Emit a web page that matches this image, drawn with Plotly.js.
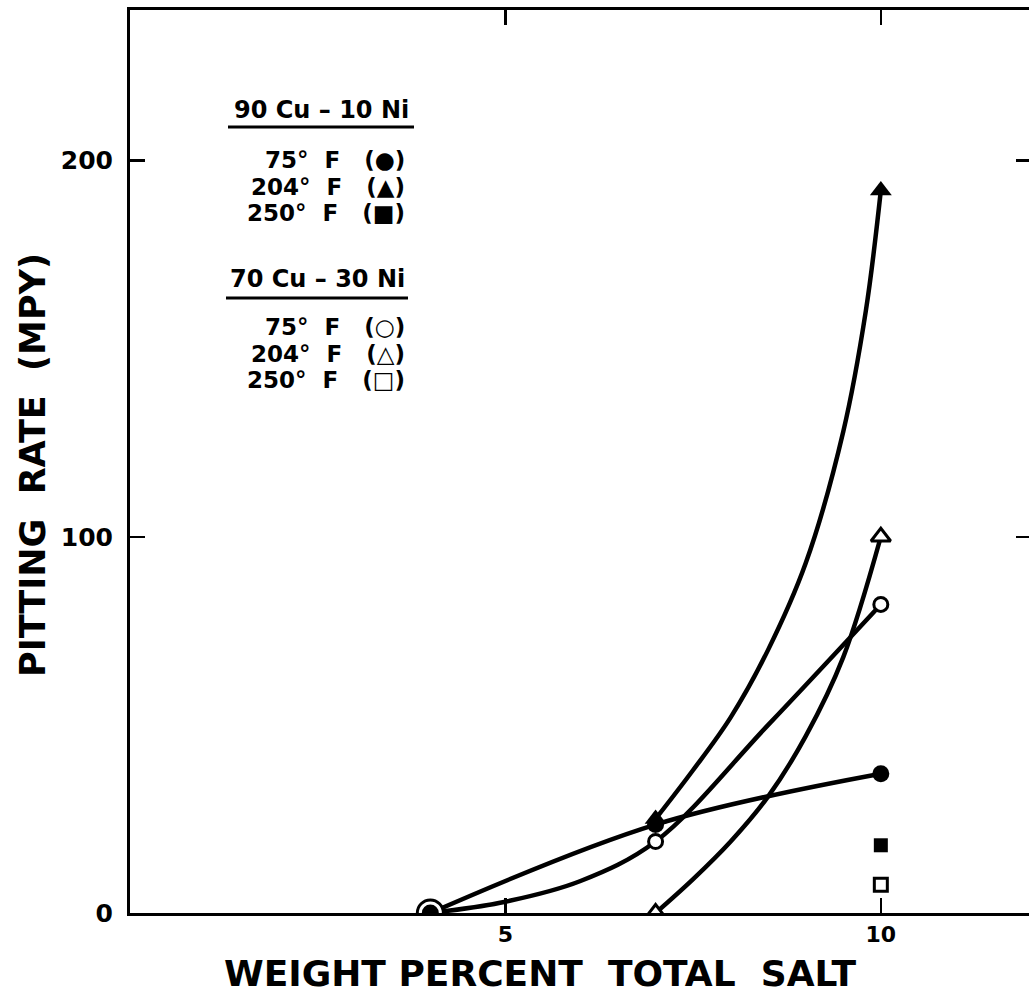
<!DOCTYPE html>
<html>
<head>
<meta charset="utf-8">
<script src="https://cdn.plot.ly/plotly-3.0.1.min.js"></script>
<style>
html, body { margin: 0; padding: 0; overflow: hidden; background: #fff; }
#chart { width: 1032px; height: 1000px; }
</style>
</head>
<body>
<div id="chart"></div>
<script>
// ---- Measured points (weight percent total salt vs pitting rate, MPY) ----
const salt90_75 = [4, 7, 10];
const rate90_75 = [0, 23.5, 37];
const salt90_204 = [7, 10];
const rate90_204 = [25, 192];
const salt90_250 = [10];
const rate90_250 = [18];
const salt70_75 = [4, 7, 10];
const rate70_75 = [0, 19, 82];
const salt70_204 = [7, 10];
const rate70_204 = [0, 100];
const salt70_250 = [10];
const rate70_250 = [7.5];

// ---- Hand-drawn fit curves ----
const curve90_75_x = [4, 7, 10];
const curve90_75_y = [0, 23.5, 37];
const curve90_204_x = [7, 7.5, 8, 8.5, 9, 9.5, 9.8, 10];
const curve90_204_y = [25, 38, 52, 70, 93, 128, 160, 192];
const curve70_75_x = [4, 5, 6, 7, 8.5, 10];
const curve70_75_y = [0, 3, 8.5, 19, 50, 82];
const curve70_204_x = [7, 7.5, 8, 8.5, 9, 9.5, 10];
const curve70_204_y = [0, 9, 19, 31, 47, 68, 100];

// ---- Axis ticks ----
const xTickVals = [5, 10];
const xTickText = ['5', '10'];
const yTickVals = [0, 100, 200];
const yTickText = ['0', '100', '200'];

// ---- Legend text ----
const group90 = '90 Cu – 10 Ni';
const group70 = '70 Cu – 30 Ni';
const legend90 = ['75°  F   (●)', '204°  F   (▲)', '250°  F   (■)'];
const legend70 = ['75°  F   (○)', '204°  F   (△)', '250°  F   (□)'];
const xTitle = 'WEIGHT PERCENT  TOTAL  SALT';
const yTitle = 'PITTING  RATE  (MPY)';

const FONT = 'DejaVu Sans, Verdana, sans-serif';
const INK = '#000';

function curve(x, y) {
  return { x: x, y: y, type: 'scatter', mode: 'lines', showlegend: false, hoverinfo: 'skip',
           line: { color: INK, width: 4.5, shape: 'spline', smoothing: 1 } };
}
function pts(x, y, symbol, size, open) {
  return { x: x, y: y, type: 'scatter', mode: 'markers', showlegend: false,
           marker: { symbol: symbol, size: size, color: open ? '#fff' : INK, opacity: 1,
                     line: { color: INK, width: open ? 3 : 0 } } };
}

const traces = [
  curve(curve90_75_x, curve90_75_y),
  curve(curve90_204_x, curve90_204_y),
  curve(curve70_75_x, curve70_75_y),
  curve(curve70_204_x, curve70_204_y),
  pts(salt70_75, rate70_75, 'circle', [26, 14, 14], true),
  pts(salt70_204, rate70_204, 'triangle-up', 17, true),
  pts(salt70_250, rate70_250, 'square', 13, true),
  pts(salt90_75, rate90_75, 'circle', 17, false),
  pts(salt90_204, rate90_204, 'triangle-up', 19, false),
  pts(salt90_250, rate90_250, 'square', 14, false)
];

// layout helpers (pixel -> paper)
const L = 130, T = 10, W = 901, H = 903;
const px = v => (v - L) / W;
const py = v => (T + H - v) / H;

const annotations = [];
function txt(text, x, y, anchor, size, angle) {
  annotations.push({ text: text, xref: 'paper', yref: 'paper', x: px(x), y: py(y),
    xanchor: anchor, yanchor: 'middle', showarrow: false, textangle: angle || 0,
    font: { family: FONT, size: size, color: INK, weight: 'bold' } });
}
txt(group90, 321, 110, 'center', 24);
txt(group70, 317, 279, 'center', 24);
const rows90 = [160, 187, 213], rows70 = [327, 354, 380];
legend90.forEach((t, i) => txt(t, 407, rows90[i], 'right', 23));
legend70.forEach((t, i) => txt(t, 407, rows70[i], 'right', 23));
txt(xTitle, 540, 973, 'center', 36);
txt(yTitle, 33, 465, 'center', 35, -90);

const shapes = [
  { type: 'line', xref: 'paper', yref: 'paper', x0: px(228), x1: px(414), y0: py(127), y1: py(127), line: { color: INK, width: 3 } },
  { type: 'line', xref: 'paper', yref: 'paper', x0: px(226), x1: px(408), y0: py(298), y1: py(298), line: { color: INK, width: 3 } }
];

const axisCommon = {
  showgrid: false, zeroline: false, showline: true, linecolor: INK, linewidth: 3,
  mirror: 'ticks', ticks: 'inside', ticklen: 15, tickwidth: 2.5, tickcolor: INK,
  tickmode: 'array'
};

const layout = {
  width: 1032, height: 1000,
  margin: { l: L, r: 1032 - L - W, t: T, b: 1000 - T - H },
  paper_bgcolor: '#fff', plot_bgcolor: '#fff',
  showlegend: false,
  xaxis: Object.assign({}, axisCommon, { range: [0, 12], tickvals: xTickVals, ticktext: xTickText,
    ticklabelstandoff: 0, tickfont: { family: FONT, size: 22, color: INK, weight: 'bold' } }),
  yaxis: Object.assign({}, axisCommon, { range: [0, 240], tickvals: yTickVals, ticktext: yTickText,
    ticklabelstandoff: 9, tickfont: { family: FONT, size: 25, color: INK, weight: 'bold' } }),
  annotations: annotations,
  shapes: shapes
};

Plotly.newPlot('chart', traces, layout, { displayModeBar: false, staticPlot: true });
</script>
</body>
</html>
